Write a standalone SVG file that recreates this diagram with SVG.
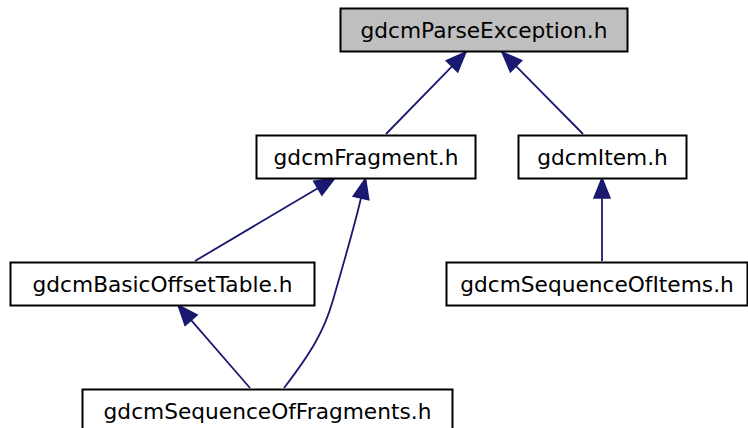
<svg xmlns="http://www.w3.org/2000/svg" width="748" height="428" viewBox="0 0 748 428">
<style>
.node rect{fill:#ffffff;stroke:#000000;stroke-width:2}
.node.root rect{fill:#bfbfbf}
.node text{font-family:"DejaVu Sans",sans-serif;font-size:21.7px;fill:#000000;text-anchor:middle}
.edge{fill:none;stroke:#191970;stroke-width:1.8}
</style>
<defs>
<marker id="arr" markerUnits="userSpaceOnUse" markerWidth="24" markerHeight="20" refX="0" refY="0" orient="auto" overflow="visible">
<path d="M0,-8 L20,0 L0,8 z" fill="#191970" stroke="#191970" stroke-width="1.5"/>
</marker>
</defs>
<g id="edges">
<path class="edge" d="M386,134 L452,66.3" marker-end="url(#arr)"/>
<path class="edge" d="M583,134 L516,66.2" marker-end="url(#arr)"/>
<path class="edge" d="M195,261 L317.8,188.2" marker-end="url(#arr)"/>
<path class="edge" d="M250,388 L191.1,320.1" marker-end="url(#arr)"/>
<path class="edge" d="M284,388 C310,354 324,332 333,300 C344,262 354,228 361,198" marker-end="url(#arr)"/>
<path class="edge" d="M602,261 L602,198" marker-end="url(#arr)"/>
</g>
<g id="node1" class="node root"><rect x="340.5" y="8.5" width="287" height="43"/><text x="484" y="38">gdcmParseException.h</text></g>
<g id="node2" class="node"><rect x="256.5" y="135.5" width="219" height="43"/><text x="366" y="165">gdcmFragment.h</text></g>
<g id="node3" class="node"><rect x="518.5" y="135.5" width="168" height="43"/><text x="602.5" y="165">gdcmItem.h</text></g>
<g id="node4" class="node"><rect x="10.5" y="262.5" width="304" height="43"/><text x="162.5" y="292">gdcmBasicOffsetTable.h</text></g>
<g id="node5" class="node"><rect x="446.5" y="262.5" width="301" height="43"/><text x="597" y="292">gdcmSequenceOfItems.h</text></g>
<g id="node6" class="node"><rect x="82.5" y="389.5" width="370" height="43"/><text x="267.5" y="419">gdcmSequenceOfFragments.h</text></g>
</svg>
